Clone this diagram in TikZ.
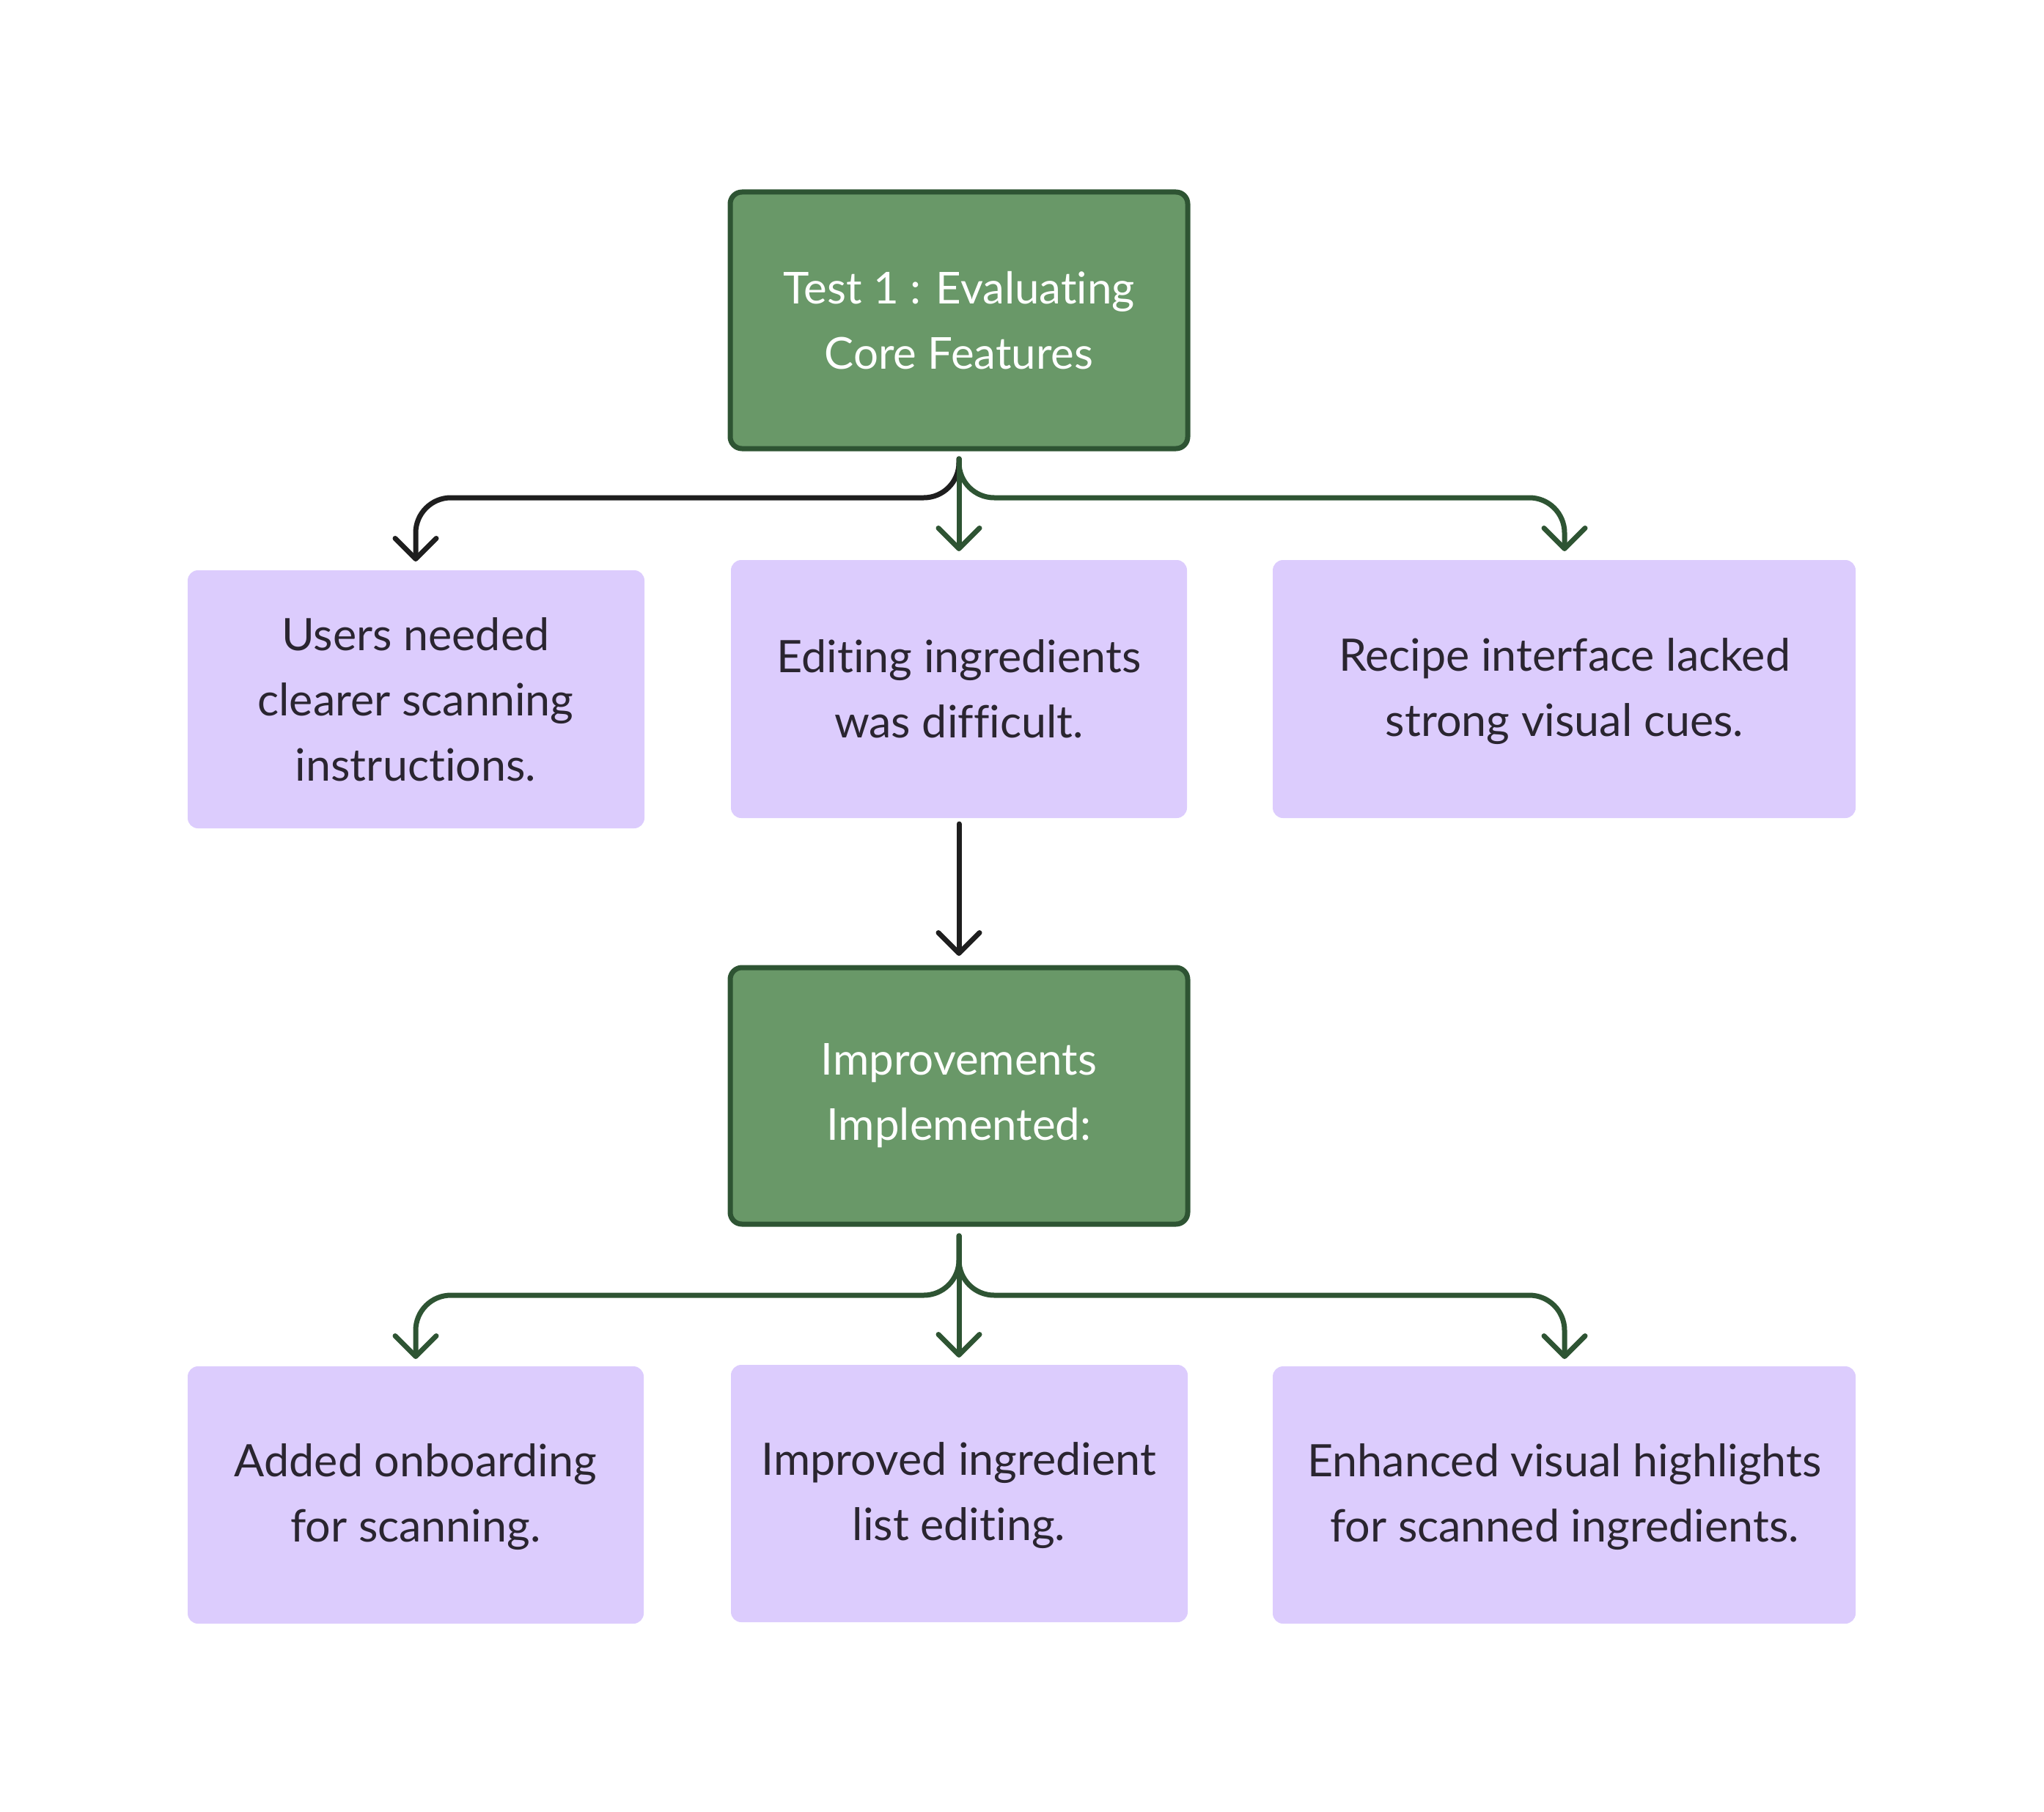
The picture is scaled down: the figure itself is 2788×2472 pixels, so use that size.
\documentclass[tikz,border=0pt]{standalone}
\usepackage{fontspec}
\setmainfont{Lato}[Ligatures=NoCommon]
\usetikzlibrary{arrows.meta}
\definecolor{gfill}{HTML}{699868}
\definecolor{gline}{HTML}{2E5433}
\definecolor{pfill}{HTML}{DCCCFD}
\definecolor{ptext}{HTML}{2A2530}
\definecolor{blk}{HTML}{1E1E1E}
\tikzset{
  greenbox/.style={draw=gline, line width=7pt, fill=gfill, rounded corners=16pt},
  purplebox/.style={fill=pfill, rounded corners=14pt},
  wlabel/.style={text=white, align=center, font=\fontsize{60}{89}\selectfont},
  plabel/.style={text=ptext, align=center, font=\fontsize{61}{89}\selectfont},
  conn/.style={line width=7pt, line cap=round, line join=round, -{Straight Barb[length=28pt,width=56pt,round]}},
}
\begin{document}
\begin{tikzpicture}[x=1pt,y=-1pt]
\useasboundingbox (0,0) rectangle (2788,2472);
% boxes
\path[greenbox] (996,262) rectangle (1620,612);
\node[wlabel] (g1) at (1308,437) {Test 1 : Evaluating\\Core Features};
\path[greenbox] (996,1320) rectangle (1620,1670);
\node[wlabel] (g2) at (1308,1495) {Improvements\\Implemented:};
\path[purplebox] (256,778) rectangle (879,1130);
\node[plabel] (p1) at (567,954) {Users needed\\clearer scanning\\instructions.};
\path[purplebox] (997,764) rectangle (1619,1116);
\node[plabel] (p2) at (1308,940) {Editing ingredients\\was difficult.};
\path[purplebox] (1736,764) rectangle (2531,1116);
\node[plabel] (p3) at (2134,943) {Recipe interface lacked\\strong visual cues.};
\path[purplebox] (256,1864) rectangle (878,2215);
\node[plabel] (q1) at (567,2042) {Added onboarding\\for scanning.};
\path[purplebox] (997,1862) rectangle (1620,2213);
\node[plabel] (q2) at (1308,2040) {Improved ingredient\\list editing.};
\path[purplebox] (1736,1864) rectangle (2531,2215);
\node[plabel] (q3) at (2134,2042) {Enhanced visual highlights\\for scanned ingredients.};
% coordinates
\coordinate (s1) at (1308,626);
\coordinate (s2) at (1308,1686);
\coordinate (m1) at (1308,1124);
\coordinate (t1l) at (567,766);
\coordinate (t1m) at (1308,752);
\coordinate (t1r) at (2134,752);
\coordinate (t2l) at (567,1854);
\coordinate (t2m) at (1308,1852);
\coordinate (t2r) at (2134,1854);
\coordinate (t3) at (1308,1304);
% top fork
\draw[conn, draw=gline, rounded corners=48pt] (s1) |- (1700,679) -| (t1r);
\draw[conn, draw=blk, rounded corners=48pt] (s1) |- (900,679) -| (t1l);
\draw[conn, draw=gline] (s1) -- (t1m);
% middle
\draw[conn, draw=blk] (m1) -- (t3);
% bottom fork
\draw[conn, draw=gline, rounded corners=48pt] (s2) |- (900,1767) -| (t2l);
\draw[conn, draw=gline, rounded corners=48pt] (s2) |- (1700,1767) -| (t2r);
\draw[conn, draw=gline] (s2) -- (t2m);
\end{tikzpicture}
\end{document}
